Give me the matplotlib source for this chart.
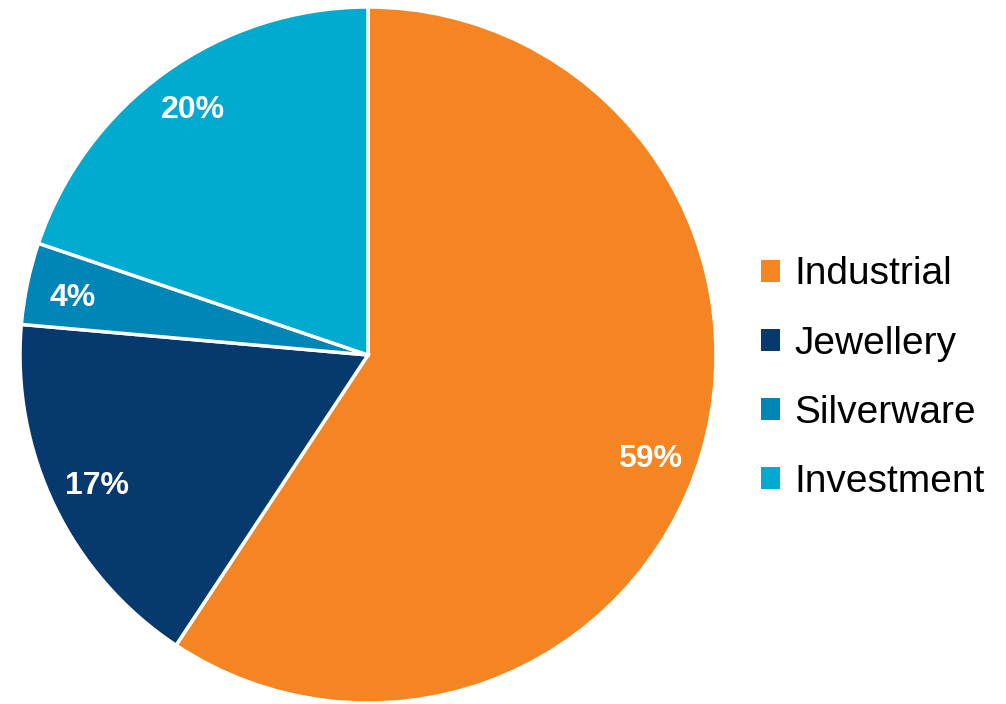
import numpy as np
import matplotlib
matplotlib.use('Agg')
import matplotlib.pyplot as plt
from matplotlib.patches import Patch

# Silver demand by use (shares)
categories = ['Industrial', 'Jewellery', 'Silverware', 'Investment']
shares = [59.3, 17.1, 3.8, 19.8]
pct_labels = ['59%', '17%', '4%', '20%']
colors = ['#F58523', '#06396E', '#0086B6', '#00ABCF']

plt.rcParams['font.family'] = ['Liberation Sans', 'DejaVu Sans']

fig = plt.figure(figsize=(10.06, 7.04), dpi=100)
ax = fig.add_axes([20 / 1006, 1 / 704, 696 / 1006, 696 / 704])

wedges, _ = ax.pie(shares, colors=colors, startangle=90, counterclock=False,
                   wedgeprops=dict(edgecolor='white', linewidth=2.5))
ax.set_xlim(-1, 1)
ax.set_ylim(-1, 1)
ax.set_aspect('equal')

# percentage labels inside the wedges
total = sum(shares)
start = 90.0
nudge = [-3.5, 0, 1, 0]  # small angle shifts like the original placement
for share, lab, dn in zip(shares, pct_labels, nudge):
    span = share / total * 360
    mid = np.deg2rad(start - span / 2 + dn)
    ax.text(0.865 * np.cos(mid), 0.865 * np.sin(mid), lab, color='white',
            fontsize=23, fontweight='bold', ha='center', va='center')
    start -= span

handles = [Patch(facecolor=c, edgecolor='none') for c in colors]
fig.legend(handles, categories, loc='center left', bbox_to_anchor=(761 / 1006, 0.463),
           frameon=False, fontsize=28, borderpad=0, borderaxespad=0,
           handlelength=0.5, handleheight=0.5, handletextpad=0.35, labelspacing=0.85)

fig.savefig('out.png', dpi=100)
